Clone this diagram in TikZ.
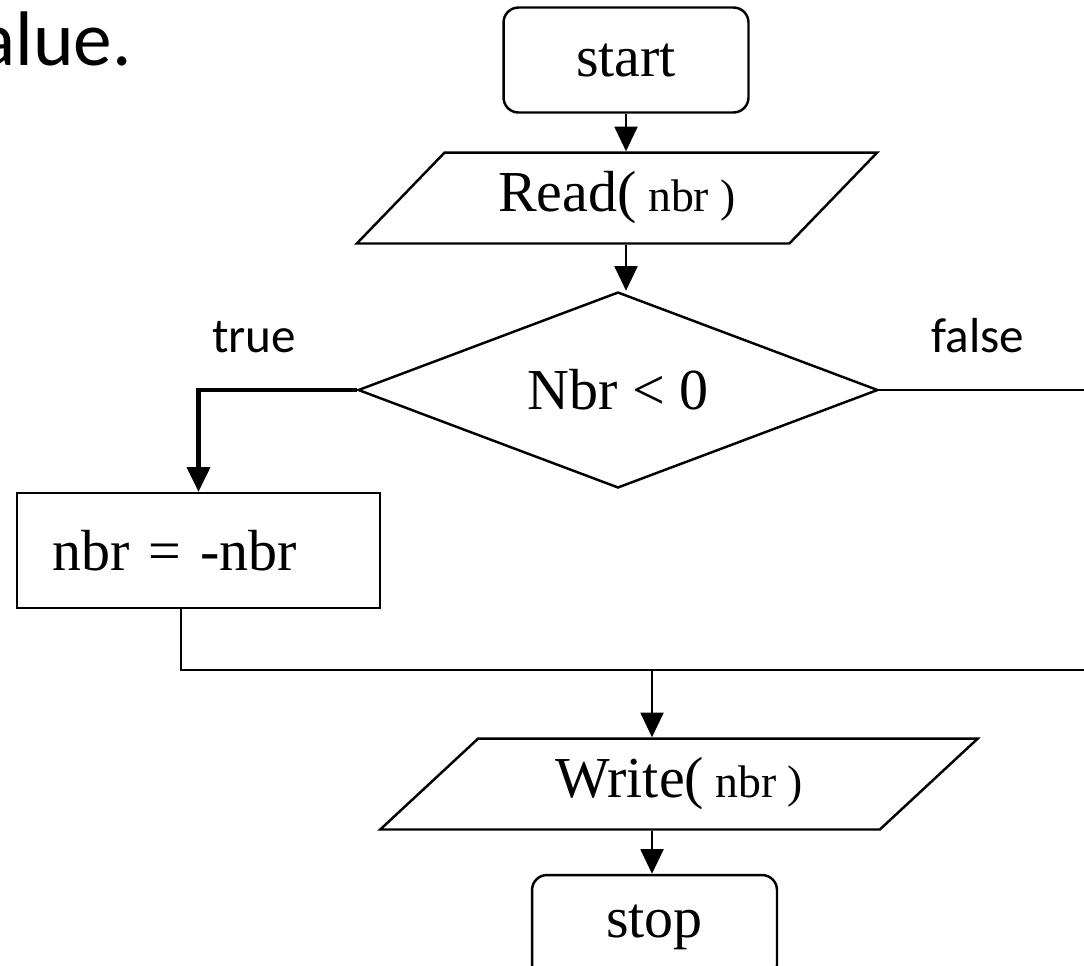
\documentclass[tikz,border=0pt]{standalone}
\usepackage{fontspec}
\setmainfont{Liberation Serif}
\newfontfamily\calibri{Carlito}
\usetikzlibrary{arrows.meta,shapes.geometric}
\newcommand{\argnbr}{{\fontsize{26}{30}\selectfont\ nbr )}}

\tikzset{
  term/.style={draw,rounded corners=0.3cm,minimum width=4.9cm,minimum height=2.1cm,inner sep=0},
  io/.style={draw,trapezium,trapezium left angle=41,trapezium right angle=139,
    trapezium stretches=true,minimum height=1.82cm,inner sep=0},
  test/.style={draw,diamond,aspect=2.65,minimum width=10.4cm,minimum height=3.92cm,inner sep=0},
  stepbox/.style={draw,minimum width=7.26cm,minimum height=2.3cm,text width=5.86cm,
    inner xsep=0.7cm,align=left},
  lbl/.style={font=\calibri\fontsize{28}{32}\selectfont,inner sep=0,anchor=base}
}

\begin{document}
\begin{tikzpicture}[x=0.02cm,y=-0.02cm,line width=1.4pt,font=\fontsize{33}{38}\selectfont,
  >={Triangle[width=13pt,length=14pt]}]
  \useasboundingbox (0,0) rectangle (1084,965);
  \clip (0,0) rectangle (1084,965);
  \node[font=\calibri\fontsize{44}{50}\selectfont,inner sep=0,anchor=base east] (title) at (133,65) {alue.};

  \node[term] (start) at (626,60) {start};
  \node[io,minimum width=10.42cm] (read) at (617,198) {Read(\argnbr};
  \node[test] (cond) at (618,390) {Nbr < 0};
  \node[stepbox] (neg) at (198.5,550.5) {nbr = -nbr};
  \node[io,minimum width=11.96cm] (write) at (679,784) {Write(\argnbr};
  \node[term] (stop) at (654.5,927.5) {stop};

  \node[lbl] (yes) at (254,352) {true};
  \node[lbl] (no) at (978,352) {false};

  \coordinate (falseR) at (1100,390);
  \coordinate (merge) at (181,670);
  \coordinate (mergeR) at (1100,670);
  \coordinate (joint) at (652,670);

  \draw[->] (start.south) -- (start.south |- read.north);
  \draw[->] (start.south |- read.south) -- (start.south |- cond.north);
  \draw[->,line width=2.3pt] (cond.west) -| (neg.north);
  \draw (cond.east) -- (falseR);
  \draw (neg.south -| merge) -- (merge) -- (mergeR);
  \draw[->] (joint) -- (joint |- write.north);
  \draw[->] (joint |- write.south) -- (joint |- stop.north);
\end{tikzpicture}
\end{document}
